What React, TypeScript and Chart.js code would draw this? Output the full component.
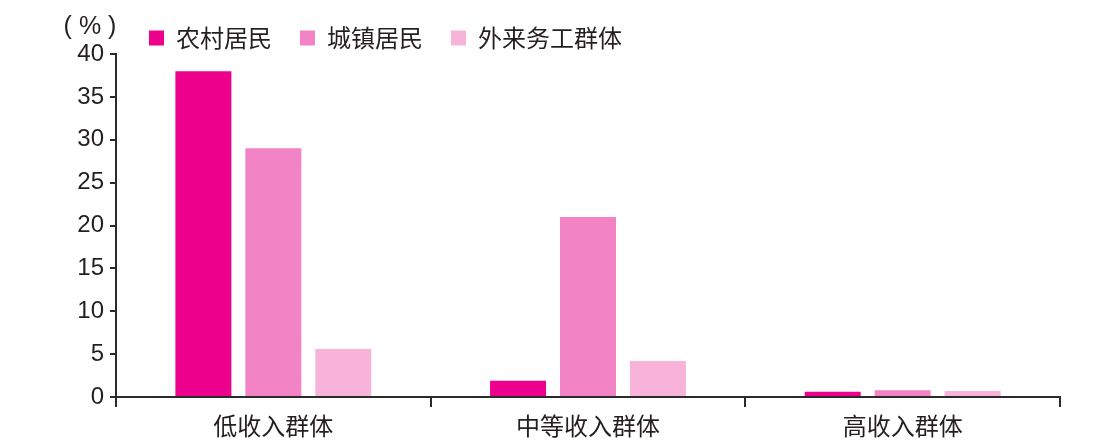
import React, { useEffect, useRef } from 'react';
import { Chart, registerables } from 'chart.js';

Chart.register(...registerables);

const categories = ['低收入群体', '中等收入群体', '高收入群体'];
const seriesNames = ['农村居民', '城镇居民', '外来务工群体'];
const ruralValues = [38, 1.9, 0.6];
const urbanValues = [29, 21, 0.8];
const migrantValues = [5.6, 4.2, 0.7];
const seriesColors = ['#EC008C', '#F283C5', '#F8B3DB'];
const yMin = 0;
const yMax = 40;
const yStep = 5;
const unitLabel = '( % )';

const CJK = '"Noto Sans CJK SC", "Liberation Sans", sans-serif';
const NUM = '"Liberation Sans", Arial, sans-serif';
const AXIS = '#2b2b2b';
const TEXT = '#231f20';

export default function App() {
  const canvasRef = useRef<HTMLCanvasElement | null>(null);

  useEffect(() => {
    document.body.style.margin = '0';
    const canvas = canvasRef.current;
    if (!canvas) return;

    const legendPlacer = {
      id: 'legendPlacer',
      afterLayout(chart: any) {
        const lg = chart.legend;
        if (!lg) return;
        const pad = lg.options.labels.padding;
        const w = lg.right - lg.left;
        const h = lg.bottom - lg.top;
        lg.left = 149 - pad;
        lg.right = lg.left + w;
        lg.top = 38 - 12 - pad;
        lg.bottom = lg.top + h;
      },
    };

    const unitText = {
      id: 'unitText',
      afterDraw(chart: any) {
        const ctx = chart.ctx;
        ctx.save();
        ctx.font = `25px ${NUM}`;
        ctx.fillStyle = TEXT;
        ctx.textAlign = 'center';
        ctx.textBaseline = 'middle';
        ctx.fillText(unitLabel, 90, 27);
        ctx.restore();
      },
    };

    const datasetsValues = [ruralValues, urbanValues, migrantValues];

    const chart = new Chart(canvas, {
      type: 'bar',
      data: {
        labels: categories,
        datasets: seriesNames.map((name, i) => ({
          label: name,
          data: datasetsValues[i],
          backgroundColor: seriesColors[i],
          borderWidth: 0,
          categoryPercentage: 0.667,
          barPercentage: 0.8,
        })),
      },
      options: {
        animation: false,
        responsive: false,
        maintainAspectRatio: false,
        layout: { padding: { top: -8, right: 42, bottom: 0, left: 0 } },
        plugins: {
          tooltip: { enabled: false },
          title: { display: false },
          legend: {
            position: 'top',
            align: 'start',
            labels: {
              boxWidth: 15,
              boxHeight: 15,
              padding: 28,
              color: TEXT,
              font: { family: CJK, size: 24 },
            },
          },
        },
        scales: {
          x: {
            type: 'category',
            afterFit(scale: any) {
              scale.height = 49;
            },
            grid: {
              display: true,
              offset: true,
              drawOnChartArea: false,
              drawTicks: true,
              tickLength: 10,
              color: AXIS,
              lineWidth: 2,
            },
            border: { display: true, color: AXIS, width: 2 },
            ticks: {
              color: TEXT,
              padding: 4,
              font: { family: CJK, size: 24 },
            },
          },
          y: {
            min: yMin,
            max: yMax,
            afterFit(scale: any) {
              scale.width = 116;
            },
            grid: {
              display: true,
              drawOnChartArea: false,
              drawTicks: true,
              tickLength: 6,
              color: AXIS,
              lineWidth: 2,
            },
            border: { display: true, color: AXIS, width: 2 },
            ticks: {
              stepSize: yStep,
              color: TEXT,
              padding: 6,
              font: { family: NUM, size: 24 },
            },
          },
        },
      },
      plugins: [legendPlacer, unitText],
    } as any);

    return () => chart.destroy();
  }, []);

  return (
    <div style={{ width: 1102, height: 446 }}>
      <canvas ref={canvasRef} width={1102} height={446} style={{ display: 'block' }} />
    </div>
  );
}
